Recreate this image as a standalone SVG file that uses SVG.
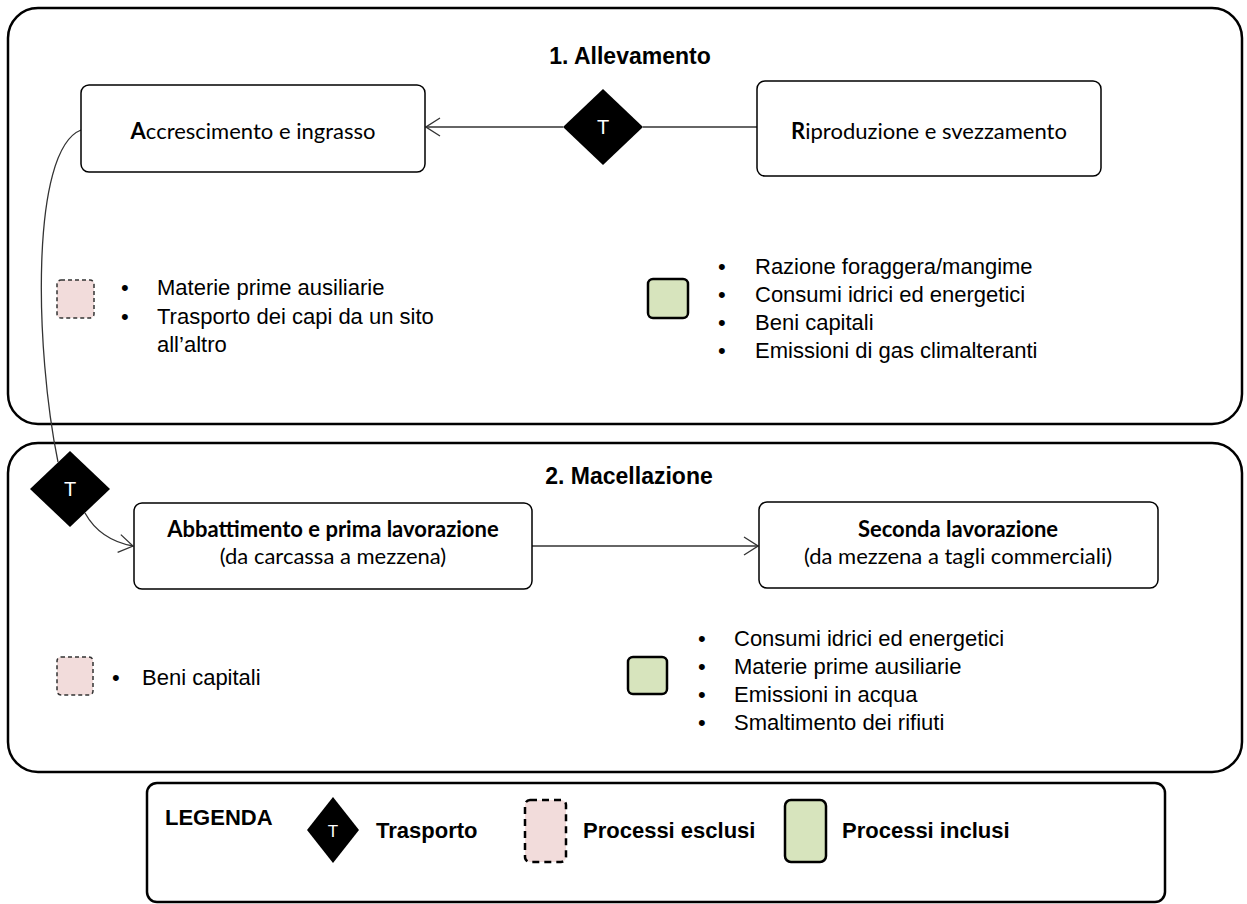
<svg xmlns="http://www.w3.org/2000/svg" width="1247" height="904" viewBox="0 0 1247 904">
<defs>
<style>
.frame{fill:#fff;stroke:#000;stroke-width:2.5}
.node{fill:#fff;stroke:#000;stroke-width:1.5}
.lbl{font-family:Lato,"Liberation Sans",sans-serif;font-size:22px;fill:#000;text-anchor:middle}
.b{font-weight:bold}
.title{font-family:"Liberation Sans",Arial,sans-serif;font-size:23px;font-weight:bold;text-anchor:middle}
.item{font-family:"Liberation Sans",Arial,sans-serif;font-size:22px;fill:#000}
.leg{font-family:"Liberation Sans",Arial,sans-serif;font-size:22px;font-weight:bold;fill:#000}
.dia{fill:#000}
.t{font-family:"Liberation Sans",Arial,sans-serif;font-size:20px;fill:#fff;text-anchor:middle}
.excl{fill:#f2dcdb;stroke:#333;stroke-width:1.5;stroke-dasharray:4,3}
.incl{fill:#d7e4bd;stroke:#000;stroke-width:2.5}
.conn{fill:none;stroke:#333;stroke-width:1.3}
</style>
<marker id="arr" viewBox="0 0 16 20" refX="15" refY="10" markerWidth="16" markerHeight="20" markerUnits="userSpaceOnUse" orient="auto">
<path d="M1,1 L15,10 L1,19" fill="none" stroke="#333" stroke-width="1.3"/>
</marker>
</defs>
<rect width="1247" height="904" fill="#fff"/>

<g id="phase1">
<rect class="frame" x="8" y="8" width="1234" height="416" rx="30"/>
<text class="title" x="630" y="64">1. Allevamento</text>
</g>
<g id="phase2">
<rect class="frame" x="8" y="443" width="1234" height="329" rx="30"/>
<text class="title" x="629" y="484">2. Macellazione</text>
</g>

<g id="connectors">
<path class="conn" d="M757,127 L643,127"/>
<path class="conn" d="M563,127 L426,127" marker-end="url(#arr)"/>
<path class="conn" d="M81,130 C30,150 35,350 58,462"/>
<path class="conn" d="M85,513 Q100,540 133,546" marker-end="url(#arr)"/>
<path class="conn" d="M532,546 L758,546" marker-end="url(#arr)"/>
</g>

<g id="accrescimento">
<rect class="node" x="81" y="85" width="344" height="87" rx="8"/>
<text class="lbl" x="253" y="139"><tspan class="b">A</tspan>ccrescimento e ingrasso</text>
</g>
<g id="trasporto1">
<polygon class="dia" points="603,89 643,127 603,165 563,127"/>
<text class="t" x="603" y="134">T</text>
</g>
<g id="riproduzione">
<rect class="node" x="757" y="81" width="344" height="95" rx="8"/>
<text class="lbl" x="929" y="139"><tspan class="b">R</tspan>iproduzione e svezzamento</text>
</g>

<g id="esclusi1">
<rect class="excl" x="57" y="280" width="37" height="38" rx="4"/>
<text class="item" x="121" y="295">•</text>
<text class="item" x="157" y="295">Materie prime ausiliarie</text>
<text class="item" x="121" y="324">•</text>
<text class="item" x="157" y="324">Trasporto dei capi da un sito</text>
<text class="item" x="157" y="352">all’altro</text>
</g>
<g id="inclusi1">
<rect class="incl" x="648" y="279" width="40" height="39" rx="5"/>
<text class="item" x="718" y="274">•</text>
<text class="item" x="755" y="274">Razione foraggera/mangime</text>
<text class="item" x="718" y="302">•</text>
<text class="item" x="755" y="302">Consumi idrici ed energetici</text>
<text class="item" x="718" y="330">•</text>
<text class="item" x="755" y="330">Beni capitali</text>
<text class="item" x="718" y="358">•</text>
<text class="item" x="755" y="358">Emissioni di gas climalteranti</text>
</g>

<g id="trasporto2">
<polygon class="dia" points="70,451 110,489 70,527 30,489"/>
<text class="t" x="70" y="496">T</text>
</g>
<g id="abbattimento">
<rect class="node" x="134" y="503" width="398" height="86" rx="8"/>
<text class="lbl b" x="333" y="537">Abbattimento e prima lavorazione</text>
<text class="lbl" x="333" y="564">(da carcassa a mezzena)</text>
</g>
<g id="seconda">
<rect class="node" x="759" y="502" width="399" height="86" rx="8"/>
<text class="lbl b" x="958" y="537">Seconda lavorazione</text>
<text class="lbl" x="958" y="564">(da mezzena a tagli commerciali)</text>
</g>

<g id="esclusi2">
<rect class="excl" x="57" y="657" width="36" height="38" rx="4"/>
<text class="item" x="112" y="685">•</text>
<text class="item" x="142" y="685">Beni capitali</text>
</g>
<g id="inclusi2">
<rect class="incl" x="628" y="657" width="39" height="37" rx="5"/>
<text class="item" x="698" y="646">•</text>
<text class="item" x="734" y="646">Consumi idrici ed energetici</text>
<text class="item" x="698" y="674">•</text>
<text class="item" x="734" y="674">Materie prime ausiliarie</text>
<text class="item" x="698" y="702">•</text>
<text class="item" x="734" y="702">Emissioni in acqua</text>
<text class="item" x="698" y="730">•</text>
<text class="item" x="734" y="730">Smaltimento dei rifiuti</text>
</g>

<g id="legenda">
<rect class="frame" x="147" y="783" width="1018" height="119" rx="10"/>
<text class="leg" x="165" y="825">LEGENDA</text>
<polygon class="dia" points="333,797 359,830 333,863 307,830"/>
<text class="t" x="333" y="837" style="font-size:17px">T</text>
<text class="leg" x="376" y="838">Trasporto</text>
<rect class="excl" x="525" y="800" width="41" height="62" rx="5" style="stroke-width:2.5;stroke:#000;stroke-dasharray:7,5"/>
<text class="leg" x="583" y="838">Processi esclusi</text>
<rect class="incl" x="785" y="800" width="41" height="62" rx="6"/>
<text class="leg" x="842" y="838">Processi inclusi</text>
</g>
</svg>
